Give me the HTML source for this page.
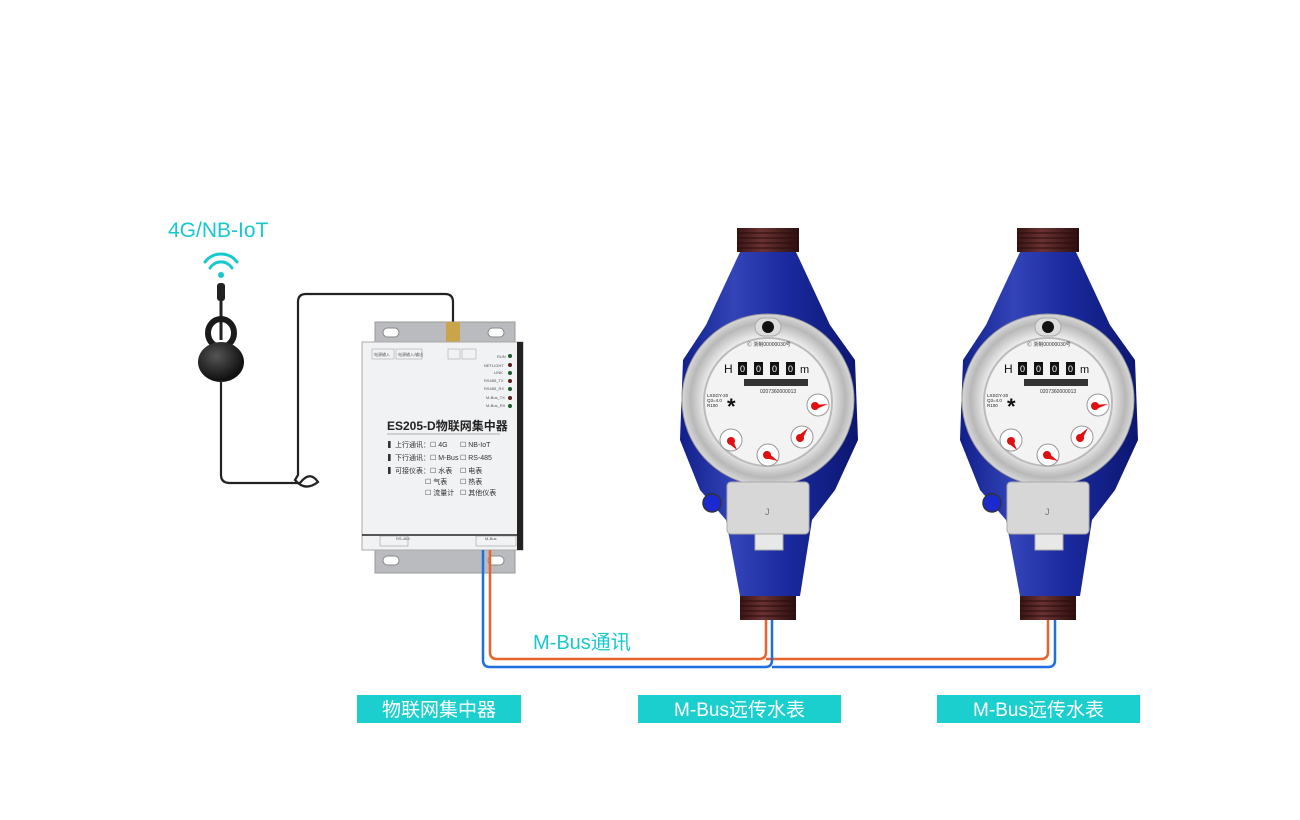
<!DOCTYPE html>
<html><head><meta charset="utf-8"><style>
html,body{margin:0;padding:0;background:#fff;width:1300px;height:820px;overflow:hidden}
svg{display:block;font-family:"Liberation Sans","Noto Sans CJK SC",sans-serif}
</style></head><body>
<svg width="1300" height="820" viewBox="0 0 1300 820" xmlns="http://www.w3.org/2000/svg">
<defs>
<linearGradient id="blue" x1="0" x2="1" y1="0" y2="0">
<stop offset="0" stop-color="#101f8a"/><stop offset="0.3" stop-color="#3344b8"/><stop offset="0.6" stop-color="#1a2a9e"/><stop offset="1" stop-color="#0c1670"/></linearGradient>
<linearGradient id="thr" x1="0" x2="1"><stop offset="0" stop-color="#3a1414"/><stop offset="0.4" stop-color="#6a3232"/><stop offset="1" stop-color="#2c0e0e"/></linearGradient>
<radialGradient id="ring" cx="0.5" cy="0.5" r="0.5"><stop offset="0.75" stop-color="#e8e8e8"/><stop offset="0.9" stop-color="#b8b8b8"/><stop offset="1" stop-color="#d8d8d8"/></radialGradient>
<radialGradient id="cup" cx="0.4" cy="0.35" r="0.6"><stop offset="0" stop-color="#555"/><stop offset="1" stop-color="#111"/></radialGradient>
</defs>

<!-- labels -->
<text x="168" y="237" font-size="21" fill="#17c9cc">4G/NB-IoT</text>
<!-- wifi -->
<g fill="none" stroke="#17c9cc" stroke-width="3" stroke-linecap="round">
<path d="M205 262 A20 20 0 0 1 237 262"/><path d="M210 268 A13 13 0 0 1 232 268"/></g>
<circle cx="221" cy="275" r="3" fill="#17c9cc"/>

<!-- antenna -->
<rect x="217" y="283" width="8" height="18" rx="3" fill="#222"/>
<line x1="221" y1="300" x2="221" y2="340" stroke="#222" stroke-width="3"/>
<ellipse cx="221" cy="333" rx="13" ry="14" fill="none" stroke="#1a1a1a" stroke-width="6"/>
<ellipse cx="221" cy="362" rx="23" ry="20" fill="url(#cup)"/>
<!-- cable -->
<path d="M221 380 L221 475 Q221 483 230 483 L300 483 M300 483 Q310 470 318 482 Q305 492 295 480 L298 475 L298 302 Q298 294 306 294 L445 294 Q453 294 453 302 L453 322" fill="none" stroke="#222" stroke-width="2.2"/>

<!-- concentrator -->
<rect x="375" y="322" width="140" height="251" fill="#b9bbbe"/>
<rect x="375" y="322" width="140" height="251" fill="none" stroke="#999"/>
<rect x="383" y="328" width="16" height="9" rx="4.5" fill="#fff" stroke="#888"/>
<rect x="488" y="328" width="16" height="9" rx="4.5" fill="#fff" stroke="#888"/>
<rect x="383" y="556" width="16" height="9" rx="4.5" fill="#fff" stroke="#888"/>
<rect x="488" y="556" width="16" height="9" rx="4.5" fill="#fff" stroke="#888"/>
<rect x="446" y="322" width="14" height="20" fill="#c9a44a"/>
<rect x="362" y="342" width="161" height="208" fill="#f1f2f4" stroke="#aaa"/>
<rect x="517" y="342" width="6" height="208" fill="#222"/>
<line x1="362" y1="535" x2="517" y2="535" stroke="#222" stroke-width="1.5"/>
<g font-size="4" fill="#555">
<rect x="372" y="349" width="22" height="10" fill="none" stroke="#999" stroke-width="0.5"/>
<rect x="396" y="349" width="26" height="10" fill="none" stroke="#999" stroke-width="0.5"/>
<rect x="448" y="349" width="12" height="10" fill="none" stroke="#999" stroke-width="0.5"/>
<rect x="462" y="349" width="14" height="10" fill="none" stroke="#999" stroke-width="0.5"/>
<text x="374" y="356">电源输入</text><text x="398" y="356">电源输入/输出</text>
<text x="497" y="358">RUN</text><text x="484" y="367">NETLIGHT</text><text x="494" y="374">LINK</text>
<text x="484" y="382">RS485_TX</text><text x="484" y="390">RS485_RX</text><text x="486" y="399">M-Bus_TX</text><text x="486" y="407">M-Bus_RX</text>
<text x="396" y="540">RS-485</text><text x="485" y="540">M-Bus</text>
</g>
<g>
<circle cx="510" cy="356" r="2" fill="#1c5a2a"/><circle cx="510" cy="365" r="2" fill="#5a1a1a"/><circle cx="510" cy="373" r="2" fill="#1c5a2a"/>
<circle cx="510" cy="381" r="2" fill="#5a1a1a"/><circle cx="510" cy="389" r="2" fill="#1c5a2a"/><circle cx="510" cy="398" r="2" fill="#5a1a1a"/><circle cx="510" cy="406" r="2" fill="#1c5a2a"/>
</g>
<text x="387" y="430" font-size="12" fill="#222" font-weight="bold">ES205-D物联网集中器</text>
<line x1="387" y1="434" x2="500" y2="434" stroke="#666" stroke-width="0.6"/>
<g font-size="7" fill="#333">
<text x="388" y="447">▍上行通讯：☐ 4G</text><text x="460" y="447">☐ NB-IoT</text>
<text x="388" y="460">▍下行通讯：☐ M-Bus</text><text x="460" y="460">☐ RS-485</text>
<text x="388" y="473">▍可接仪表：☐ 水表</text><text x="460" y="473">☐ 电表</text>
<text x="425" y="484">☐ 气表</text><text x="460" y="484">☐ 热表</text>
<text x="425" y="495">☐ 流量计</text><text x="460" y="495">☐ 其他仪表</text>
</g>
<rect x="380" y="536" width="28" height="10" fill="none" stroke="#888" stroke-width="0.5"/>
<rect x="476" y="536" width="40" height="10" fill="none" stroke="#888" stroke-width="0.5"/>

<!-- wires -->
<path d="M490 550 L490 652 Q490 659 497 659 L759 659 Q766 659 766 652 L766 620 M766 659 L1041 659 Q1048 659 1048 652 L1048 620" fill="none" stroke="#e8642a" stroke-width="2.5"/>
<path d="M483 550 L483 660 Q483 667 490 667 L765 667 Q772 667 772 660 L772 620 M772 667 L1048 667 Q1055 667 1055 660 L1055 620" fill="none" stroke="#1f6fe0" stroke-width="2.5"/>
<text x="533" y="649" font-size="20" fill="#17c9cc">M-Bus通讯</text>

<!-- meter 1 -->
<g>
<rect x="737" y="228" width="62" height="24" fill="url(#thr)"/>
<g stroke="#2a0c0c" stroke-width="1"><line x1="737" y1="233" x2="799" y2="233"/><line x1="737" y1="238" x2="799" y2="238"/><line x1="737" y1="243" x2="799" y2="243"/><line x1="737" y1="248" x2="799" y2="248"/></g>
<path d="M740 252 L796 252 L830 325 L855 360 L858 440 L835 490 L812 520 L800 596 L740 596 L726 520 L700 490 L680 440 L683 360 L706 325 Z" fill="url(#blue)"/>
<circle cx="768" cy="400" r="86" fill="url(#ring)" stroke="#999" stroke-width="1"/>
<rect x="755" y="318" width="26" height="18" rx="9" fill="#ddd" stroke="#aaa"/>
<circle cx="768" cy="327" r="6" fill="#111"/>
<circle cx="768" cy="402" r="64" fill="#f3f3f3" stroke="#bbb" stroke-width="2"/>
<text x="747" y="346" font-size="5" fill="#333">Ⓒ 浙制00000030号</text>
<text x="724" y="373" font-size="12" fill="#111">H</text>
<g fill="#111"><rect x="738" y="362" width="9" height="13"/><rect x="754" y="362" width="9" height="13"/><rect x="770" y="362" width="9" height="13"/><rect x="786" y="362" width="9" height="13"/></g>
<g fill="#fff" font-size="9"><text x="740" y="372">0</text><text x="756" y="372">0</text><text x="772" y="372">0</text><text x="788" y="372">0</text></g>
<text x="800" y="373" font-size="11" fill="#111">m</text>
<rect x="744" y="379" width="64" height="7" fill="#333"/>
<text x="760" y="393" font-size="5" fill="#333">0207360000013</text>
<text x="707" y="397" font-size="4.5" fill="#222">LXSGY-20</text><text x="707" y="402" font-size="4.5" fill="#222">Q3=4.0</text><text x="707" y="407" font-size="4.5" fill="#222">R100</text>
<text x="727" y="414" font-size="22" font-weight="bold" fill="#111">*</text>
<g fill="#fff" stroke="#999"><circle cx="818" cy="405" r="11"/><circle cx="731" cy="440" r="11"/><circle cx="768" cy="455" r="11"/><circle cx="802" cy="437" r="11"/></g>
<g fill="#e01010"><path d="M812 405 L828 404 L814 410 Z"/><circle cx="815" cy="406" r="4"/><circle cx="731" cy="441" r="4"/><path d="M733 440 L737 450 L728 443Z"/><circle cx="767" cy="455" r="4"/><path d="M767 452 L778 461 L765 458Z"/><circle cx="800" cy="438" r="4"/><path d="M798 436 L808 428 L802 440Z"/></g>
<rect x="727" y="482" width="82" height="52" rx="4" fill="#d7d7d7" stroke="#aaa"/>
<text x="765" y="515" font-size="9" fill="#777">J</text>
<rect x="755" y="534" width="28" height="16" fill="#e8e8e8" stroke="#aaa"/>
<circle cx="712" cy="503" r="9" fill="#1a2ad0" stroke="#333" stroke-width="1.5"/>
<rect x="740" y="596" width="56" height="24" fill="url(#thr)"/>
<g stroke="#2a0c0c" stroke-width="1"><line x1="740" y1="601" x2="796" y2="601"/><line x1="740" y1="606" x2="796" y2="606"/><line x1="740" y1="611" x2="796" y2="611"/><line x1="740" y1="616" x2="796" y2="616"/></g>
</g>

<!-- meter 2 -->
<g transform="translate(280,0)">
<rect x="737" y="228" width="62" height="24" fill="url(#thr)"/>
<g stroke="#2a0c0c" stroke-width="1"><line x1="737" y1="233" x2="799" y2="233"/><line x1="737" y1="238" x2="799" y2="238"/><line x1="737" y1="243" x2="799" y2="243"/><line x1="737" y1="248" x2="799" y2="248"/></g>
<path d="M740 252 L796 252 L830 325 L855 360 L858 440 L835 490 L812 520 L800 596 L740 596 L726 520 L700 490 L680 440 L683 360 L706 325 Z" fill="url(#blue)"/>
<circle cx="768" cy="400" r="86" fill="url(#ring)" stroke="#999" stroke-width="1"/>
<rect x="755" y="318" width="26" height="18" rx="9" fill="#ddd" stroke="#aaa"/>
<circle cx="768" cy="327" r="6" fill="#111"/>
<circle cx="768" cy="402" r="64" fill="#f3f3f3" stroke="#bbb" stroke-width="2"/>
<text x="747" y="346" font-size="5" fill="#333">Ⓒ 浙制00000030号</text>
<text x="724" y="373" font-size="12" fill="#111">H</text>
<g fill="#111"><rect x="738" y="362" width="9" height="13"/><rect x="754" y="362" width="9" height="13"/><rect x="770" y="362" width="9" height="13"/><rect x="786" y="362" width="9" height="13"/></g>
<g fill="#fff" font-size="9"><text x="740" y="372">0</text><text x="756" y="372">0</text><text x="772" y="372">0</text><text x="788" y="372">0</text></g>
<text x="800" y="373" font-size="11" fill="#111">m</text>
<rect x="744" y="379" width="64" height="7" fill="#333"/>
<text x="760" y="393" font-size="5" fill="#333">0207360000013</text>
<text x="707" y="397" font-size="4.5" fill="#222">LXSGY-20</text><text x="707" y="402" font-size="4.5" fill="#222">Q3=4.0</text><text x="707" y="407" font-size="4.5" fill="#222">R100</text>
<text x="727" y="414" font-size="22" font-weight="bold" fill="#111">*</text>
<g fill="#fff" stroke="#999"><circle cx="818" cy="405" r="11"/><circle cx="731" cy="440" r="11"/><circle cx="768" cy="455" r="11"/><circle cx="802" cy="437" r="11"/></g>
<g fill="#e01010"><path d="M812 405 L828 404 L814 410 Z"/><circle cx="815" cy="406" r="4"/><circle cx="731" cy="441" r="4"/><path d="M733 440 L737 450 L728 443Z"/><circle cx="767" cy="455" r="4"/><path d="M767 452 L778 461 L765 458Z"/><circle cx="800" cy="438" r="4"/><path d="M798 436 L808 428 L802 440Z"/></g>
<rect x="727" y="482" width="82" height="52" rx="4" fill="#d7d7d7" stroke="#aaa"/>
<text x="765" y="515" font-size="9" fill="#777">J</text>
<rect x="755" y="534" width="28" height="16" fill="#e8e8e8" stroke="#aaa"/>
<circle cx="712" cy="503" r="9" fill="#1a2ad0" stroke="#333" stroke-width="1.5"/>
<rect x="740" y="596" width="56" height="24" fill="url(#thr)"/>
<g stroke="#2a0c0c" stroke-width="1"><line x1="740" y1="601" x2="796" y2="601"/><line x1="740" y1="606" x2="796" y2="606"/><line x1="740" y1="611" x2="796" y2="611"/><line x1="740" y1="616" x2="796" y2="616"/></g>
</g>

<!-- bottom labels -->
<rect x="357" y="695" width="164" height="28" fill="#1ccfcf"/>
<text x="439" y="716" font-size="19" fill="#fff" text-anchor="middle">物联网集中器</text>
<rect x="638" y="695" width="203" height="28" fill="#1ccfcf"/>
<text x="739.5" y="716" font-size="19" fill="#fff" text-anchor="middle">M-Bus远传水表</text>
<rect x="937" y="695" width="203" height="28" fill="#1ccfcf"/>
<text x="1038.5" y="716" font-size="19" fill="#fff" text-anchor="middle">M-Bus远传水表</text>
</svg>
</body></html>
